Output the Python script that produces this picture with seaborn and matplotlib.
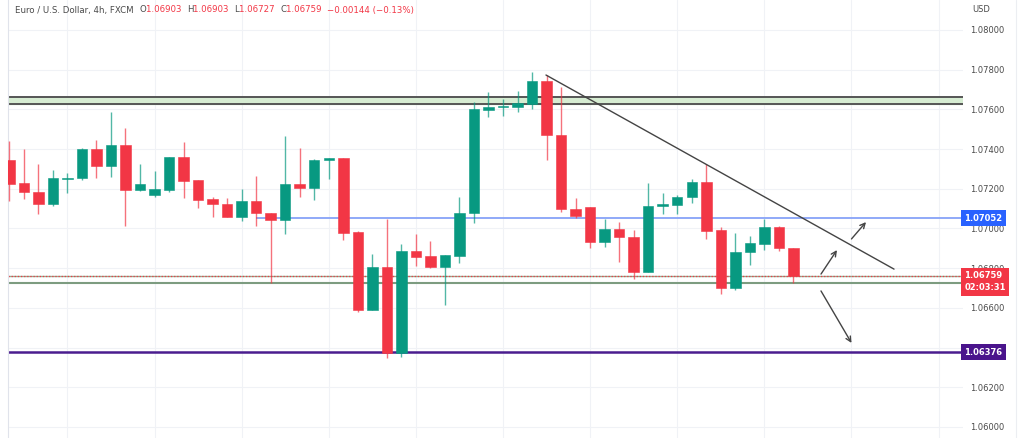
import numpy as np
import pandas as pd
import matplotlib
matplotlib.use("Agg")
import matplotlib.pyplot as plt
import seaborn as sns

# EUR/USD 4h candles
opens = [1.07345, 1.07229, 1.07184, 1.07123, 1.07249, 1.07254, 1.07400, 1.07315, 1.07420, 1.07194,
         1.07168, 1.07194, 1.07360, 1.07244, 1.07148, 1.07123, 1.07058, 1.07138, 1.07078, 1.07042,
         1.07224, 1.07204, 1.07345, 1.07355, 1.06982, 1.06589, 1.06806, 1.06372, 1.06886, 1.06861,
         1.06806, 1.06861, 1.07078, 1.07597, 1.07612, 1.07612, 1.07627, 1.07743, 1.07471, 1.07098,
         1.07108, 1.06932, 1.06997, 1.06957, 1.06780, 1.07113, 1.07118, 1.07158, 1.07234, 1.06992,
         1.06700, 1.06881, 1.06921, 1.07007, 1.06903]
highs = [1.07441, 1.07400, 1.07325, 1.07294, 1.07279, 1.07405, 1.07446, 1.07587, 1.07506, 1.07325,
         1.07289, 1.07360, 1.07436, 1.07244, 1.07158, 1.07153, 1.07199, 1.07264, 1.07078, 1.07466,
         1.07405, 1.07350, 1.07355, 1.07355, 1.06987, 1.06871, 1.07047, 1.06921, 1.06972, 1.06937,
         1.06866, 1.07158, 1.07637, 1.07688, 1.07652, 1.07693, 1.07788, 1.07773, 1.07713, 1.07153,
         1.07108, 1.07047, 1.07032, 1.06992, 1.07229, 1.07179, 1.07168, 1.07249, 1.07325, 1.07007,
         1.06977, 1.06962, 1.07047, 1.07012, 1.06903]
lows = [1.07138, 1.07148, 1.07073, 1.07113, 1.07179, 1.07244, 1.07254, 1.07259, 1.07012, 1.07189,
        1.07158, 1.07184, 1.07153, 1.07103, 1.07058, 1.07058, 1.07037, 1.07012, 1.06725, 1.06972,
        1.07158, 1.07143, 1.07249, 1.06942, 1.06579, 1.06589, 1.06347, 1.06352, 1.06811, 1.06800,
        1.06614, 1.06826, 1.07027, 1.07562, 1.07567, 1.07587, 1.07602, 1.07345, 1.07083, 1.07052,
        1.06901, 1.06906, 1.06831, 1.06745, 1.06780, 1.07073, 1.07073, 1.07128, 1.06947, 1.06669,
        1.06690, 1.06816, 1.06891, 1.06886, 1.06727]
closes = [1.07224, 1.07184, 1.07123, 1.07254, 1.07254, 1.07400, 1.07315, 1.07420, 1.07194, 1.07224,
          1.07199, 1.07360, 1.07239, 1.07143, 1.07123, 1.07058, 1.07138, 1.07078, 1.07042, 1.07224,
          1.07204, 1.07345, 1.07355, 1.06977, 1.06589, 1.06806, 1.06372, 1.06886, 1.06856, 1.06806,
          1.06866, 1.07078, 1.07602, 1.07612, 1.07617, 1.07632, 1.07743, 1.07471, 1.07098, 1.07063,
          1.06932, 1.06997, 1.06957, 1.06780, 1.07113, 1.07123, 1.07158, 1.07234, 1.06987, 1.06700,
          1.06881, 1.06926, 1.07007, 1.06901, 1.06759]

# drawings on the chart
zone_low, zone_high = 1.07627, 1.07662
support_low, support_high = 1.06725, 1.06762
last_price = 1.06759
blue_level = 1.07052
purple_level = 1.06376
blue_start = 17
trend_x = [36.96, 60.93]
trend_y = [1.07773, 1.06795]
arrows = [((55.9, 1.06770), (57.0, 1.06891)),
          ((58.0, 1.06947), (59.0, 1.07032)),
          ((55.9, 1.06685), (58.0, 1.06423))]
yticks = [1.060, 1.062, 1.064, 1.066, 1.068, 1.070, 1.072, 1.074, 1.076, 1.078, 1.080]

GREEN = "#089981"
RED = "#f23645"

df = pd.DataFrame({"open": opens, "high": highs, "low": lows, "close": closes})
df["i"] = np.arange(len(df))
df["up"] = df["close"] >= df["open"]
df["color"] = np.where(df["up"], GREEN, RED)

sns.set_theme(style="white")
plt.rcParams['font.family'] = ['DejaVu Sans']

fig = plt.figure(figsize=(10.24, 4.38), dpi=100)
ax = fig.add_axes([8 / 1024, 0, (963 - 8) / 1024, 1])

# wicks and bodies
ax.vlines(df["i"], df["low"], df["high"], colors=df["color"], linewidth=1, alpha=0.7, zorder=3)
body_lo = df[["open", "close"]].min(axis=1)
body_h = (df["open"] - df["close"]).abs().clip(lower=0.000012)
ax.bar(df["i"], body_h, bottom=body_lo, width=0.72, color=df["color"],
       edgecolor=df["color"], linewidth=0.4, zorder=4)

# resistance zone
ax.axhspan(zone_low, zone_high, color="#d6ecd2", zorder=1)
ax.axhline(zone_high, color="#555555", lw=1.4, zorder=2)
ax.axhline(zone_low, color="#555555", lw=1.4, zorder=2)

# support lines
ax.axhline(support_high, color="#8fae8f", lw=1, zorder=2)
ax.axhline(last_price, color=RED, lw=0.9, ls=(0, (1, 1.5)), zorder=2)
ax.axhline(support_low, color="#7d9c80", lw=1.5, zorder=2)

ax.hlines(blue_level, blue_start, 66, color="#8fa9f8", lw=1.4, zorder=2)
ax.axhline(purple_level, color="#4a1d8f", lw=1.8, zorder=2)

sns.lineplot(x=trend_x, y=trend_y, ax=ax, color="#444444", lw=1, zorder=5)
for (x0, y0), (x1, y1) in arrows:
    ax.annotate("", xy=(x1, y1), xytext=(x0, y0),
                arrowprops=dict(arrowstyle="->", color="#444444", lw=1,
                                mutation_scale=9, shrinkA=0, shrinkB=0), zorder=5)

ax.set_xlim(-0.09, 65.68)
ax.set_ylim(1.05944, 1.08151)
ax.set_xticks(np.arange(4, 66, 6))
ax.set_xticklabels([])
ax.set_yticks(yticks)
ax.set_yticklabels([f"{t:.5f}" for t in yticks])
ax.yaxis.tick_right()
ax.tick_params(axis="y", length=0, pad=5, labelsize=6, labelcolor="#4a4a4a")
ax.tick_params(axis="x", length=0)
ax.grid(True, color="#f0f2f6", lw=0.8, zorder=0)
for s in ["top", "right", "bottom"]:
    ax.spines[s].set_visible(False)
ax.spines["left"].set_color("#e0e3eb")
ax.spines["left"].set_linewidth(0.8)

# price tags
tr = ax.get_yaxis_transform()
ax.text(1.0015, blue_level, "1.07052", transform=tr, ha="left", va="center", fontsize=6,
        color="white", fontweight="bold", clip_on=False, zorder=10,
        bbox=dict(boxstyle="square,pad=0.4", fc="#2962ff", ec="none"))
ax.text(1.0015, last_price - 0.00027, "1.06759\n02:03:31", transform=tr, ha="left", va="center",
        fontsize=6, color="white", fontweight="bold", linespacing=1.45, clip_on=False, zorder=10,
        bbox=dict(boxstyle="square,pad=0.4", fc=RED, ec="none"))
ax.text(1.0015, purple_level, "1.06376", transform=tr, ha="left", va="center", fontsize=6,
        color="white", fontweight="bold", clip_on=False, zorder=10,
        bbox=dict(boxstyle="square,pad=0.4", fc="#4a148c", ec="none"))

fig.text(972 / 1024, 1 - 9 / 438, "USD", ha="left", va="center", fontsize=6, color="#4a4a4a")
fig.add_artist(plt.Line2D([1016 / 1024, 1016 / 1024], [0, 1], color="#eceef2", lw=0.8))

# header line
hdr = [("Euro / U.S. Dollar, 4h, FXCM  ", "#4a4a4a"), ("O", "#4a4a4a"), ("1.06903  ", RED),
       ("H", "#4a4a4a"), ("1.06903  ", RED), ("L", "#4a4a4a"), ("1.06727  ", RED),
       ("C", "#4a4a4a"), ("1.06759  ", RED), ("\u22120.00144 (\u22120.13%)", RED)]
fig.canvas.draw()
renderer = fig.canvas.get_renderer()
xpos = 15
for txt, col in hdr:
    t = fig.text(xpos / 1024, 1 - 10 / 438, txt, ha="left", va="center", fontsize=6.2, color=col)
    bb = t.get_window_extent(renderer=renderer)
    xpos += bb.width

fig.savefig("out.png", dpi=100, facecolor="white")
